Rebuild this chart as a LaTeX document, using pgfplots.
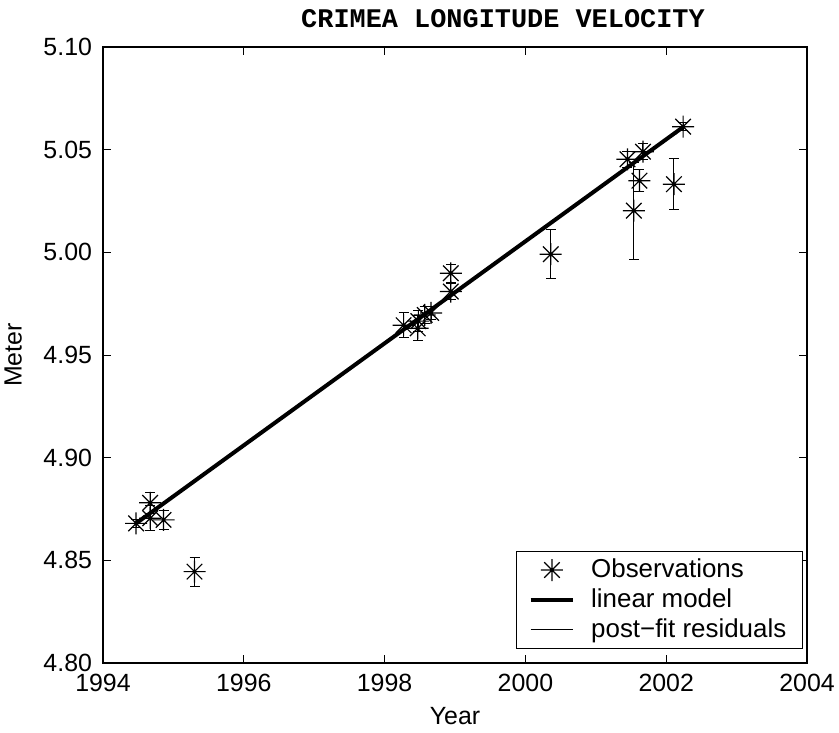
\documentclass[border=0pt]{standalone}
\usepackage{fontspec}
\setmainfont{Liberation Sans}
\newfontfamily\titlefont{Liberation Mono}
\usepackage{pgfplots}
\pgfplotsset{compat=1.18}

% matlab-style asterisk: + and x combined
\pgfdeclareplotmark{mstar}{%
  \pgfpathmoveto{\pgfqpoint{-\pgfplotmarksize}{0pt}}\pgfpathlineto{\pgfqpoint{\pgfplotmarksize}{0pt}}%
  \pgfpathmoveto{\pgfqpoint{0pt}{-\pgfplotmarksize}}\pgfpathlineto{\pgfqpoint{0pt}{\pgfplotmarksize}}%
  \pgfpathmoveto{\pgfqpoint{-0.707\pgfplotmarksize}{-0.707\pgfplotmarksize}}\pgfpathlineto{\pgfqpoint{0.707\pgfplotmarksize}{0.707\pgfplotmarksize}}%
  \pgfpathmoveto{\pgfqpoint{-0.707\pgfplotmarksize}{0.707\pgfplotmarksize}}\pgfpathlineto{\pgfqpoint{0.707\pgfplotmarksize}{-0.707\pgfplotmarksize}}%
  \pgfusepathqstroke}

\pgfplotstableread{
x y e
1994.47 4.8680 0.002
1994.67 4.8780 0.005
1994.67 4.8705 0.006
1994.86 4.8697 0.0045
1995.30 4.8445 0.007
1998.27 4.9645 0.006
1998.47 4.9630 0.006
1998.48 4.9665 0.005
1998.57 4.9695 0.004
1998.66 4.9705 0.003
1998.94 4.9898 0.0043
1998.94 4.9809 0.004
2000.36 4.9991 0.012
2001.45 5.0453 0.004
2001.54 5.0203 0.0236
2001.62 5.0349 0.0053
2001.67 5.0490 0.004
2002.11 5.0332 0.0125
2002.24 5.0612 0.002
}\obs

\begin{document}
\begin{tikzpicture}
\begin{axis}[
    scale only axis,
    width=352bp, height=308bp,
    xmin=1994, xmax=2004, ymin=4.8, ymax=5.1,
    xtick={1994,1996,...,2004},
    ytick={4.80,4.85,...,5.10},
    xticklabel style={yshift=-2bp, /pgf/number format/1000 sep={}},
    yticklabel style={xshift=-2bp, /pgf/number format/.cd, fixed, fixed zerofill, precision=2},
    /pgf/number format/assume math mode=true,
    tick align=inside,
    major tick length=4bp,
    tick style={black, line width=0.5bp},
    axis line style={line width=0.6bp},
    ticklabel style={font=\fontsize{12.5}{14}\selectfont},
    xlabel={Year}, ylabel={Meter},
    label style={font=\fontsize{12.5}{14}\selectfont},
    xlabel style={yshift=-1bp},
    ylabel style={yshift=4bp},
    title={\titlefont\bfseries CRIMEA LONGITUDE VELOCITY},
    title style={font=\fontsize{13.5}{15}\selectfont, at={(0.5,1)}, xshift=24bp, yshift=0bp},
    legend style={at={(0.994,0.023)}, anchor=south east, draw=black, line width=0.5bp,
        font=\fontsize{13}{15}\selectfont, row sep=0bp, column sep=6bp,
        inner xsep=6bp, inner ysep=2bp},
    legend cell align=left,
    legend image code/.code={\draw[mark repeat=2,mark phase=2,#1] plot coordinates {(0cm,0cm) (0.375cm,0cm) (0.75cm,0cm)};},
]
\coordinate (sw) at (rel axis cs:0,0);
\coordinate (ne) at (rel axis cs:1,1);

\addplot[black, line width=2bp, forget plot] coordinates {(1994.47,4.868) (2002.24,5.061)};

\addplot[black, only marks, mark=mstar, mark size=5.5bp, mark options={line width=0.6bp}, forget plot,
    error bars/.cd, y dir=both, y explicit,
    error bar style={line width=0.5bp, black},
    error mark options={rotate=90, line width=0.5bp, mark size=2.5bp}]
    table[x=x, y=y, y error=e] {\obs};

\addlegendimage{black, only marks, mark=mstar, mark size=5.5bp, mark options={line width=0.6bp}}
\addlegendentry{Observations}
\addlegendimage{black, line width=2bp}
\addlegendentry{linear model}
\addlegendimage{black, line width=0.5bp}
\addlegendentry{post−fit residuals\hspace{6bp}}
\end{axis}
\pgfresetboundingbox
\path ([xshift=-51.5bp,yshift=-35bp]sw) rectangle ([xshift=16bp,yshift=23.5bp]ne);
\end{tikzpicture}
\end{document}
